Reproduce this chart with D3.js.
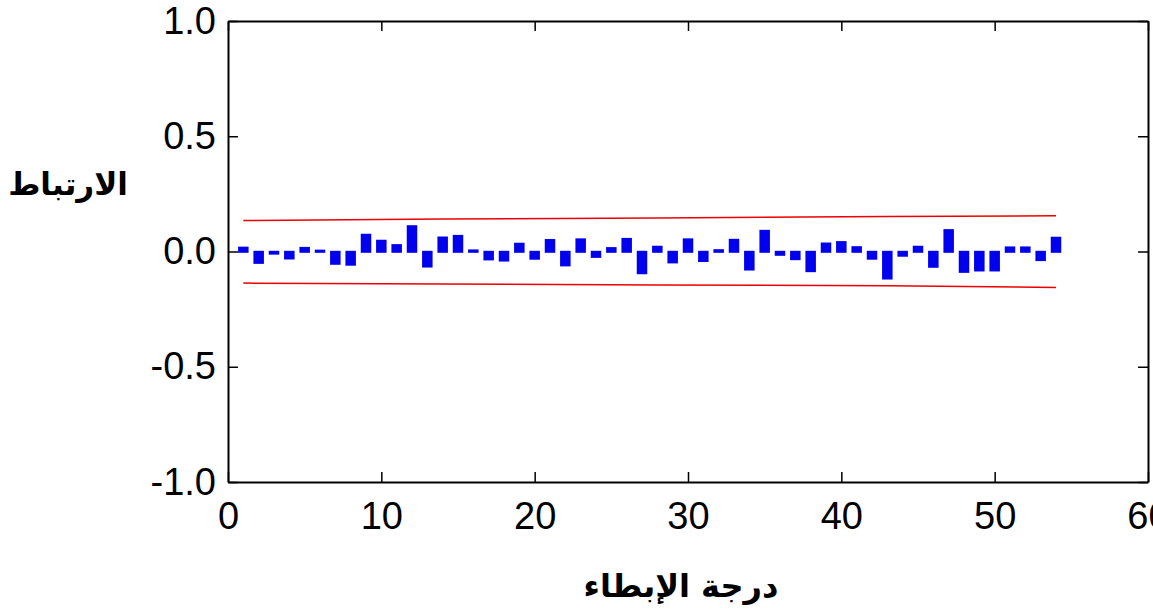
<!DOCTYPE html>
<html><head><meta charset="utf-8">
<script src="https://cdn.jsdelivr.net/npm/d3@7"></script>
<style>body{margin:0;background:#fff}svg{display:block}</style>
</head><body>
<svg id="c" width="1153" height="615"></svg>
<script>
const lags = d3.range(1, 55);
const acf = [0.018,-0.048,-0.008,-0.029,0.017,0.005,-0.052,-0.056,0.074,0.048,
  0.029,0.111,-0.064,0.062,0.069,0.006,-0.033,-0.038,0.035,-0.030,
  0.051,-0.059,0.054,-0.022,0.016,0.056,-0.093,0.022,-0.046,0.054,
  -0.040,0.007,0.052,-0.077,0.091,-0.013,-0.032,-0.084,0.036,0.042,
  0.020,-0.030,-0.116,-0.017,0.022,-0.065,0.094,-0.087,-0.081,-0.081,
  0.019,0.019,-0.036,0.061];
const bandLags = [1, 14, 28, 43, 54];
const bandUpper = [0.1345, 0.1405, 0.145, 0.152, 0.155];
const bandLower = [-0.137, -0.1415, -0.145, -0.149, -0.156];
const xTicks = [0, 10, 20, 30, 40, 50, 60];
const yTicks = [1.0, 0.5, 0.0, -0.5, -1.0];
const yTitle = "الارتباط";
const xTitle = "درجة الإبطاء";

const svg = d3.select("#c");
const L = 228, R = 1148, T = 21, B = 482;
const x = d3.scaleLinear().domain([0, 60]).range([L, R]);
const y = d3.scaleLinear().domain([-1, 1]).range([B, T]);

// bars
const bw = 10.5;
svg.append("g").selectAll("rect").data(lags).join("rect")
  .attr("x", (d) => x(d) - bw / 2)
  .attr("width", bw)
  .attr("y", (d, i) => y(Math.max(0, acf[i])) - 0.7)
  .attr("height", (d, i) => Math.abs(y(acf[i]) - y(0)) + 2)
  .attr("fill", "#0000ee");

// bands
const line = d3.line().x((d) => x(d[0])).y((d) => y(d[1]));
svg.append("path").datum(bandLags.map((l, i) => [l, bandUpper[i]]))
  .attr("d", line).attr("fill", "none").attr("stroke", "#ee0000").attr("stroke-width", 1.5);
svg.append("path").datum(bandLags.map((l, i) => [l, bandLower[i]]))
  .attr("d", line).attr("fill", "none").attr("stroke", "#ee0000").attr("stroke-width", 1.5);

// axes
const font = "'Liberation Sans', Arial, sans-serif";
const fmt = (d) => d.toFixed(1);
const gl = svg.append("g").attr("transform", `translate(${L},0)`)
  .call(d3.axisLeft(y).tickValues(yTicks).tickFormat(fmt).tickSizeInner(-10).tickSizeOuter(0).tickPadding(12));
const gr = svg.append("g").attr("transform", `translate(${R},0)`)
  .call(d3.axisRight(y).tickValues(yTicks).tickFormat("").tickSizeInner(-10).tickSizeOuter(0));
const gb = svg.append("g").attr("transform", `translate(0,${B})`)
  .call(d3.axisBottom(x).tickValues(xTicks).tickFormat(d3.format("d")).tickSizeInner(-10).tickSizeOuter(0).tickPadding(20));
const gt = svg.append("g").attr("transform", `translate(0,${T})`)
  .call(d3.axisTop(x).tickValues(xTicks).tickFormat("").tickSizeInner(-10).tickSizeOuter(0));
[gl, gr, gb, gt].forEach((g) => {
  g.selectAll(".domain").attr("stroke", "#000").attr("stroke-width", 2);
  g.selectAll(".tick line").attr("stroke", "#000").attr("stroke-width", 1.5);
  g.selectAll("text").attr("font-family", font).attr("font-size", 38).attr("fill", "#000");
});

svg.append("text").attr("x", 68).attr("y", 195).attr("text-anchor", "middle")
  .attr("font-family", "'DejaVu Sans', sans-serif").attr("font-weight", "bold").attr("font-size", 31)
  .attr("direction", "rtl").text(yTitle);
svg.append("text").attr("x", 681).attr("y", 597).attr("text-anchor", "middle")
  .attr("font-family", "'DejaVu Sans', sans-serif").attr("font-weight", "bold").attr("font-size", 32)
  .attr("direction", "rtl").text(xTitle);
</script>
</body></html>
